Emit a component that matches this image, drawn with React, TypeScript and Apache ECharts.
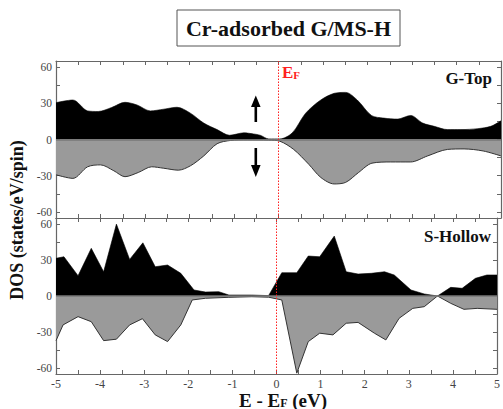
import React, { useEffect, useRef } from "react";
import * as echarts from "echarts";

// DOS data: [E - EF (eV), DOS (states/eV/spin)]
const gTopUp: [number, number][] = [
  [-5, 30.5], [-4.62, 32.7], [-4.29, 23.7], [-4.05, 23.2], [-3.75, 26.5], [-3.45, 30.8],
  [-3.18, 28.6], [-2.88, 23.7], [-2.58, 25.1], [-2.28, 26.7], [-1.98, 21.8], [-1.68, 13.6],
  [-1.38, 8.2], [-1.1, 3.5], [-0.78, 5.5], [-0.56, 4.6], [-0.41, 3.5], [-0.22, 0.5],
  [0.03, 0.5], [0.31, 5.5], [0.61, 21.8], [0.95, 32.7], [1.25, 38.2], [1.51, 39],
  [1.77, 32.7], [2.09, 19.9], [2.37, 17.7], [2.67, 16.9], [2.97, 19.9], [3.24, 13.6],
  [3.5, 10.9], [3.8, 8.2], [4.1, 8.2], [4.48, 9.0], [4.77, 10.9], [5, 15.5],
];
const gTopDown: [number, number][] = [
  [-5, -29.2], [-4.62, -32.2], [-4.29, -22.6], [-4.0, -21], [-3.7, -25.9], [-3.45, -30.8],
  [-3.15, -27.3], [-2.85, -22.6], [-2.58, -23.8], [-2.25, -25.4], [-1.98, -21.8], [-1.68, -13.6],
  [-1.38, -3.5], [-1.08, -0.8], [-0.7, -0.3], [-0.22, -0.5], [0.03, -1.4], [0.34, -8.2],
  [0.68, -20.5], [0.95, -31.4], [1.25, -36.8], [1.51, -35.5], [1.8, -27.3], [2.1, -19.6],
  [2.52, -18.6], [2.97, -18.6], [3.35, -13.6], [3.8, -8.2], [4.17, -7.8], [4.6, -9.5], [5, -13.6],
];
const sHollowUp: [number, number][] = [
  [-5, 31.4], [-4.82, 32.7], [-4.5, 16.9], [-4.2, 39.7], [-3.92, 20.2], [-3.63, 59.9],
  [-3.33, 30.5], [-3.03, 44.3], [-2.75, 24.4], [-2.47, 25.8], [-2.17, 18.9], [-1.87, 5],
  [-1.61, 3.3], [-1.31, 3.6], [-1.08, 0.8], [-0.56, 0.8], [-0.18, 0.3], [0.12, 19.4],
  [0.46, 19.4], [0.72, 33.3], [0.98, 32.7], [1.31, 49.9], [1.58, 20.2], [1.85, 18.3],
  [2.15, 18.9], [2.45, 20.2], [2.67, 17.5], [3.05, 5], [3.35, 1.7], [3.65, 0],
  [3.95, 7.2], [4.21, 6.4], [4.51, 14.7], [4.77, 17.5], [5, 17.5],
];
const sHollowDown: [number, number][] = [
  [-5, -37.2], [-4.84, -24.1], [-4.5, -17.2], [-4.2, -21.4], [-3.92, -37.2], [-3.63, -36],
  [-3.33, -24.1], [-3.04, -18.9], [-2.75, -32.4], [-2.47, -38], [-2.17, -24.1], [-1.91, -3.3],
  [-1.61, -1.9], [-1.08, -1.1], [-0.56, -0.6], [-0.18, -1], [0.12, -3.3], [0.46, -64.3],
  [0.72, -38], [0.98, -31], [1.28, -32.4], [1.58, -22.7], [1.85, -22], [2.22, -31],
  [2.48, -36.6], [2.78, -18.6], [3.09, -10.3], [3.35, -8.9], [3.65, 0], [3.95, -6.1],
  [4.25, -11.1], [4.55, -10.3], [5, -11.1],
];

const yTickValues = [-60, -45, -30, -15, 0, 15, 30, 45, 60];
const yLabelValues = [-60, -30, 0, 30, 60];
const panelNames = ["G-Top", "S-Hollow"];
const titleText = "Cr-adsorbed G/MS-H";

const SERIF = "Liberation Serif";
const AXIS_COLOR = "#666";
const EF_COLOR = "#ff2020";

export default function App() {
  const ref = useRef<HTMLDivElement>(null);
  useEffect(() => {
    if (!ref.current) return;
    const chart = echarts.init(ref.current, null, { renderer: "svg" });

    const grids = [
      { left: 56, top: 61, width: 445, height: 157 },
      { left: 56, top: 218, width: 445, height: 156 },
    ];

    const xAxes: any[] = [];
    const yAxes: any[] = [];
    [0, 1].forEach((g) => {
      ["bottom", "top"].forEach((pos) => {
        xAxes.push({
          type: "value",
          gridIndex: g,
          position: pos,
          min: -5,
          max: 5,
          interval: 0.5,
          axisLine: { show: true, onZero: false, lineStyle: { color: AXIS_COLOR, width: 1.2 } },
          axisTick: { show: true, inside: true, length: 4, lineStyle: { color: AXIS_COLOR, width: 1 } },
          splitLine: { show: false },
          axisLabel: {
            show: g === 1 && pos === "bottom",
            margin: 4,
            color: "#444",
            fontFamily: SERIF,
            fontSize: 12,
            lineHeight: 12,
            formatter: (v: number) => (Number.isInteger(v) ? String(v) : ""),
          },
        });
      });
      ["left", "right"].forEach((pos) => {
        yAxes.push({
          type: "value",
          gridIndex: g,
          position: pos,
          min: -65,
          max: 65,
          axisLine: { show: true, onZero: false, lineStyle: { color: AXIS_COLOR, width: 1.2 } },
          axisTick: {
            show: true,
            inside: true,
            length: 4,
            customValues: yTickValues,
            lineStyle: { color: AXIS_COLOR, width: 1 },
          },
          splitLine: { show: false },
          axisLabel: {
            show: pos === "left",
            customValues: yLabelValues,
            margin: 4,
            color: "#444",
            fontFamily: SERIF,
            fontSize: 11.5,
            lineHeight: 10,
          },
        });
      });
    });

    const zeroLine = {
      silent: true,
      symbol: ["none", "none"],
      label: { show: false },
      lineStyle: { color: "#777", width: 1.5, type: "solid" },
      data: [{ yAxis: 0 }],
    };
    const efLine = {
      silent: true,
      symbol: ["none", "none"],
      label: { show: false },
      lineStyle: { color: EF_COLOR, width: 1, type: [1.5, 1.5], opacity: 1 },
      data: [{ xAxis: 0 }],
    };

    const mkUp = (data: [number, number][], g: number, smooth: number) => ({
      type: "line",
      xAxisIndex: g * 2,
      yAxisIndex: g * 2,
      data,
      symbol: "none",
      smooth,
      lineStyle: { color: "#000", width: 0.6 },
      itemStyle: { color: "#000" },
      areaStyle: { color: "#000", opacity: 1, origin: 0 },
      markLine: zeroLine,
      z: 2,
    });
    const mkDown = (data: [number, number][], g: number, smooth: number) => ({
      type: "line",
      xAxisIndex: g * 2,
      yAxisIndex: g * 2,
      data,
      symbol: "none",
      smooth,
      lineStyle: { color: "#333", width: 1 },
      itemStyle: { color: EF_COLOR },
      areaStyle: { color: "#9a9a9a", opacity: 1, origin: 0 },
      markLine: efLine,
      z: 3,
    });

    const arrowColor = "#000";
    const FONT = "Liberation Serif, serif";

    chart.setOption({
      animation: false,
      textStyle: { fontFamily: SERIF },
      grid: grids,
      xAxis: xAxes,
      yAxis: yAxes,
      series: [
        mkUp(gTopUp, 0, 0.3),
        mkDown(gTopDown, 0, 0.3),
        mkUp(sHollowUp, 1, 0),
        mkDown(sHollowDown, 1, 0),
      ],
      graphic: [
        {
          type: "rect",
          shape: { x: 177, y: 10, width: 223, height: 36 },
          style: { fill: "#fff", stroke: "#555", lineWidth: 1 },
        },
        {
          type: "text",
          x: 288.5,
          y: 28.5,
          style: {
            text: titleText,
            font: `bold 22px ${FONT}`,
            fill: "#111",
            textAlign: "center",
            textVerticalAlign: "middle",
          },
        },
        {
          type: "text",
          x: 492,
          y: 78,
          style: {
            text: panelNames[0],
            font: `bold 17px ${FONT}`,
            fill: "#111",
            textAlign: "right",
            textVerticalAlign: "middle",
          },
        },
        {
          type: "text",
          x: 491,
          y: 236,
          style: {
            text: panelNames[1],
            font: `bold 17px ${FONT}`,
            fill: "#111",
            textAlign: "right",
            textVerticalAlign: "middle",
          },
        },
        {
          type: "text",
          x: 282,
          y: 72,
          style: {
            text: "{e|E}{f|F}",
            textVerticalAlign: "middle",
            rich: {
              e: { font: `bold 17px ${FONT}`, fill: EF_COLOR, color: EF_COLOR },
              f: { font: `bold 11px ${FONT}`, fill: EF_COLOR, color: EF_COLOR, padding: [6, 0, 0, 0] },
            },
          },
        },
        // spin arrows
        { type: "rect", shape: { x: 254.5, y: 105, width: 2.6, height: 17 }, style: { fill: arrowColor } },
        { type: "polygon", shape: { points: [[251, 107], [255.8, 95.5], [260.6, 107]] }, style: { fill: arrowColor } },
        { type: "rect", shape: { x: 254.5, y: 148, width: 2.6, height: 18 }, style: { fill: arrowColor } },
        { type: "polygon", shape: { points: [[251, 165], [255.8, 177], [260.6, 165]] }, style: { fill: arrowColor } },
        // axis titles
        {
          type: "text",
          x: 17,
          y: 220,
          rotation: Math.PI / 2,
          style: {
            text: "DOS (states/eV/spin)",
            font: `bold 18px ${FONT}`,
            fill: "#111",
            textAlign: "center",
            textVerticalAlign: "middle",
          },
        },
        {
          type: "text",
          x: 283,
          y: 400,
          style: {
            text: "{a|E - E}{b|F}{a| (eV)}",
            textAlign: "center",
            textVerticalAlign: "middle",
            rich: {
              a: { font: `bold 19px ${FONT}`, fill: "#111", color: "#111", lineHeight: 16 },
              b: { font: `bold 12px ${FONT}`, fill: "#111", color: "#111", lineHeight: 16, padding: [5, 0, 0, 0] },
            },
          },
        },
      ],
    });
    return () => chart.dispose();
  }, []);
  return (
    <div
      ref={ref}
      style={{ position: "fixed", left: 0, top: 0, width: 503, height: 409, background: "#fff" }}
    />
  );
}
